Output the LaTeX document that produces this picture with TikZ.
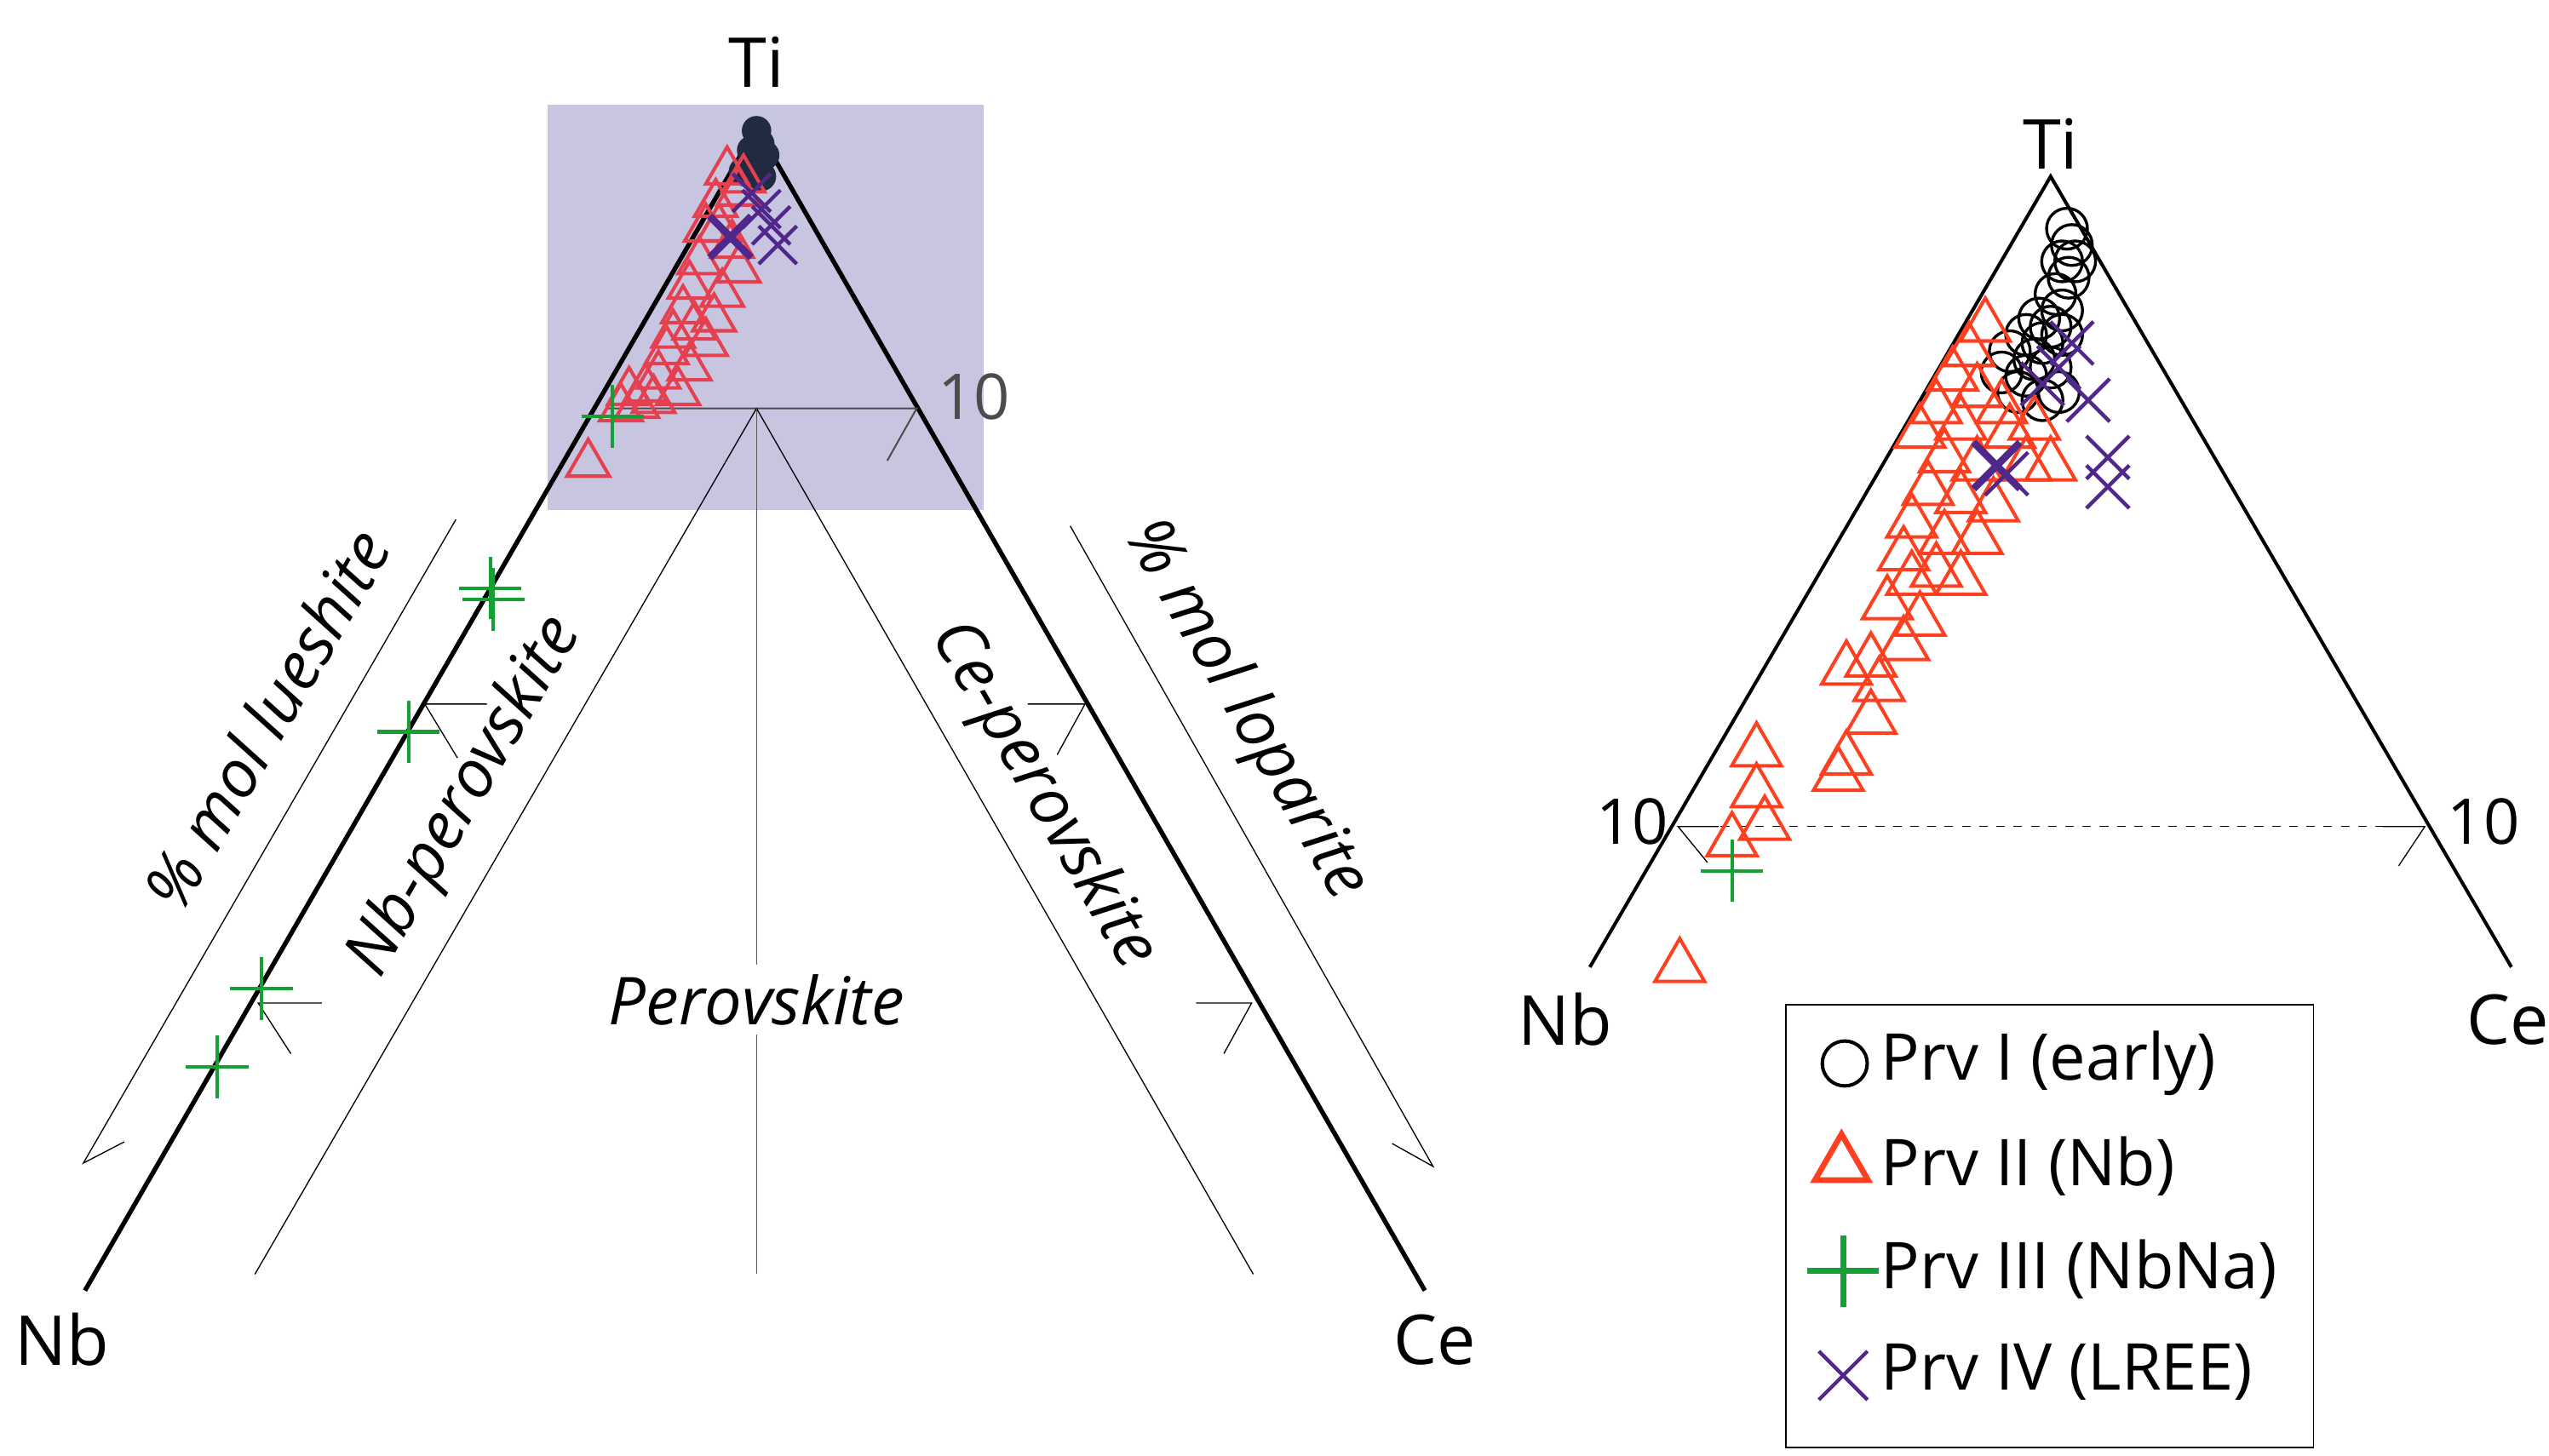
\documentclass[tikz,border=0pt]{standalone}
\usepackage{fontspec}
\setmainfont{Open Sans}
\usetikzlibrary{shapes.geometric,shapes.misc}
\definecolor{boxblue}{RGB}{200,197,225}
\definecolor{navy}{RGB}{32,42,64}
\definecolor{redA}{RGB}{229,64,80}
\definecolor{redB}{RGB}{255,64,32}
\definecolor{purp}{RGB}{80,40,140}
\definecolor{grn}{RGB}{20,160,50}
\tikzset{
    tri/.style={regular polygon, regular polygon sides=3, draw, inner sep=0pt, minimum size=#1, line width=1.2pt},
    xm/.style={cross out, draw=purp, inner sep=0pt, minimum size=#1, line width=1.3pt},
    pm/.style={cross out, rotate=45, draw=grn, inner sep=0pt, minimum size=#1, line width=1.2pt},
    corner/.style={font=\fontsize{24}{28}\selectfont},
    field/.style={font=\fontsize{23}{27}\selectfont\itshape},
    tick/.style={line width=0.6pt, gray!60!black}
}
\begin{document}
\begin{tikzpicture}[x=0.02cm, y=-0.02cm]
    \useasboundingbox (0,0) rectangle (1560,891);
    % left diagram
    \fill[boxblue] (335,64) rectangle (602,312);
    \coordinate (Ti) at (463,78);
    \coordinate (Nb) at (52,790);
    \coordinate (Ce) at (872,790);
    \draw[line width=1.6pt] (Nb) -- (Ti) -- (Ce);
    \node[corner] (tiL) at (463,38) {Ti};
    \node[corner] (nbL) at (38,820) {Nb};
    \node[corner] (ceL) at (878,820) {Ce};
    \coordinate (c10) at (463,250);
    \draw[tick] (372,250) -- (561,250) -- (543,282);
    \node[font=\fontsize{22}{26}\selectfont\rmfamily, gray!60!black] (ten) at (596,243) {10};
    \draw[thin] (c10) -- (156,780);
    \draw[thin] (c10) -- (767,780);
    \draw[thin, gray!70!black] (c10) -- (463,780);
    \node[field, fill=white] (perov) at (463,612) {Perovskite};
    \node[field, rotate=60] (nbp) at (285,488) {Nb-perovskite};
    \node[field, rotate=-60] (cep) at (638,487) {Ce-perovskite};
    \node[field, rotate=60] (lue) at (163,440) {\% mol lueshite};
    \node[field, rotate=-60] (lop) at (762,435) {\% mol loparite};
    \draw[thin] (279,318) -- (51,712) -- (76,699);
    \draw[thin] (655,322) -- (877,714) -- (852,700);
    \draw[thin] (298,431) -- (260,431) -- (280,464);
    \draw[thin] (197,614) -- (158,614) -- (178,645);
    \draw[thin] (629,431) -- (664,431) -- (647,462);
    \draw[thin] (732,614) -- (766,614) -- (749,645);
    % left data
    \foreach \p [count=\i] in {(463,80),(465,88),(460,92),(468,95),(462,100),(455,105),(466,108)}
        \node[circle, fill=navy, minimum size=0.36cm, inner sep=0pt] (lc\i) at \p {};
    \foreach \p [count=\i] in {(445,105),(452,118),(438,125),(455,110),(432,140),(448,150),(428,160),(452,165),(422,175),(442,180),(418,190),(437,195),(412,205),(432,210),(408,215),(422,225),(403,230),(395,238),(385,240),(415,240),(400,245),(380,250),(390,248),(360,284),(440,140),(425,200)}
        \node[tri=0.6cm, draw=redA] (lt\i) at \p {};
    \foreach \p [count=\i] in {(460,118),(466,128),(472,138),(476,150)}
        \node[xm=0.42cm] (lx\i) at \p {};
    \node[xm=0.42cm, line width=2.5pt] (lx5) at (447,145) {};
    \foreach \p [count=\i] in {(375,255),(300,360),(302,367),(250,448),(160,605),(133,653)}
        \node[pm=0.5cm] (lp\i) at \p {};
    % right diagram
    \coordinate (ti) at (1255,108);
    \coordinate (nb) at (973,592);
    \coordinate (ce) at (1537,592);
    \draw[line width=1.2pt] (nb) -- (ti) -- (ce);
    \node[corner] (tiR) at (1255,88) {Ti};
    \node[corner] (nbR) at (958,624) {Nb};
    \node[corner] (ceR) at (1535,624) {Ce};
    \draw[thin, dashed] (1032,506) -- (1484,506);
    \draw[thin] (1045,528) -- (1027,506) -- (1052,506);
    \draw[thin] (1458,506) -- (1484,506) -- (1468,530);
    \node[font=\fontsize{22}{26}\selectfont\rmfamily] (ten1) at (999,503) {10};
    \node[font=\fontsize{22}{26}\selectfont\rmfamily] (ten2) at (1520,503) {10};
    % right data
    \foreach \p [count=\i] in {(1265,140),(1268,150),(1262,160),(1266,170),(1258,180),(1262,190),(1255,200),(1250,210),(1245,220),(1240,230),(1235,240),(1255,225),(1262,205),(1270,160),(1248,195),(1240,205),(1230,215),(1225,228),(1260,240),(1250,245)}
        \node[circle, draw, line width=1pt, minimum size=0.5cm, inner sep=0pt] (rc\i) at \p {};
    \foreach \p [count=\i] in {(1215,200),(1205,215),(1195,230),(1210,240),(1185,250),(1200,260),(1175,265),(1225,250),(1190,280),(1210,285),(1240,285),(1255,285),(1180,300),(1200,305),(1220,310),(1170,320),(1190,330),(1210,330),(1165,340),(1185,350),(1200,355),(1155,370),(1175,380),(1145,405),(1165,395),(1150,420),(1130,410),(1130,465),(1125,475),(1145,440),(1075,460),(1075,485),(1080,505),(1060,515),(1028,592),(1230,265),(1245,260),(1170,355)}
        \node[tri=0.7cm, draw=redB] (rt\i) at \p {};
    \foreach \p [count=\i] in {(1268,210),(1260,225),(1250,235),(1278,245),(1290,280),(1290,298),(1228,290)}
        \node[xm=0.48cm] (rx\i) at \p {};
    \node[xm=0.48cm, line width=2.5pt] (rx8) at (1222,285) {};
    \node[pm=0.5cm] (rp1) at (1060,533) {};
    % legend
    \draw[thin] (1093,615) rectangle (1416,886);
    \node[circle, draw, line width=1.2pt, minimum size=0.55cm, inner sep=0pt] (k1) at (1129,651) {};
    \node[tri=0.75cm, draw=redB, line width=2pt] (k2) at (1127,713) {};
    \node[pm=0.55cm, line width=2pt] (k3) at (1128,778) {};
    \node[xm=0.55cm] (k4) at (1128,842) {};
    \foreach \t [count=\i] in {Prv I (early),Prv II (Nb),Prv III (NbNa),Prv IV (LREE)}
        \node[font=\fontsize{22.5}{26}\selectfont, anchor=west, inner sep=0pt] (kt\i) at (1151,588+\i*63) {\t};
\end{tikzpicture}
\end{document}
